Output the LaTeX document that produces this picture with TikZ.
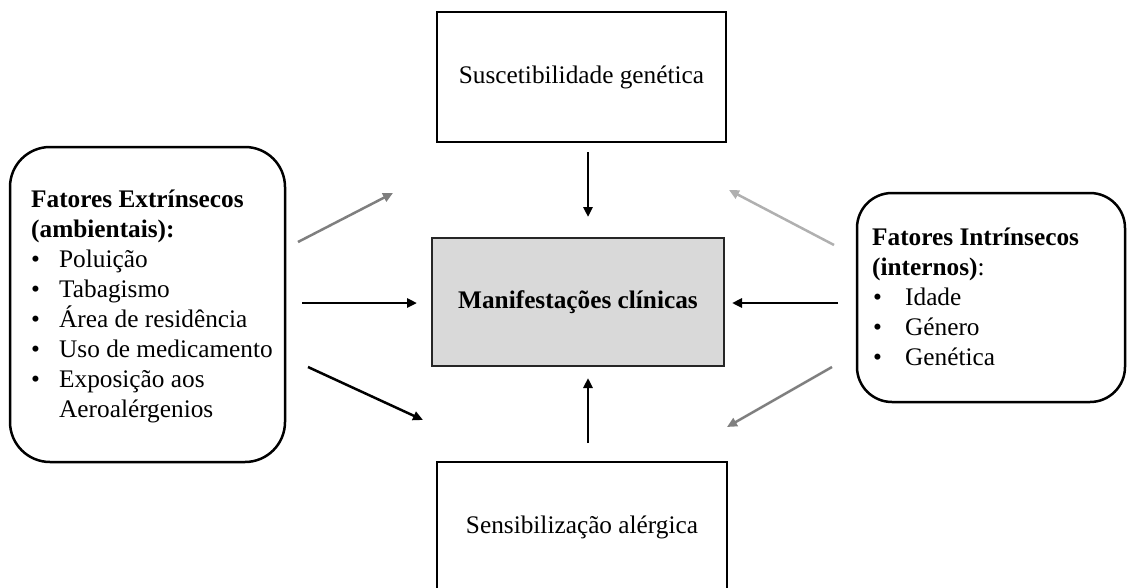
\documentclass[tikz,border=0pt]{standalone}
\usepackage{fontspec}
\setmainfont{Liberation Serif}
\usetikzlibrary{arrows.meta}
\definecolor{boxgray}{HTML}{D9D9D9}
\definecolor{boxedge}{HTML}{262626}
\definecolor{midgray}{HTML}{7F7F7F}
\definecolor{palegray}{HTML}{B0B0B0}
\newcommand\bulitem[2]{\hspace*{#1}\makebox[#2][l]{•}}
\begin{document}
\begin{tikzpicture}[x=1pt,y=-1pt,
  font=\fontsize{25.3}{30}\selectfont,
  plainbox/.style={draw=black, line width=2.5pt, align=center, inner sep=0pt},
  roundbox/.style={draw=black, line width=2.5pt, inner sep=0pt},
  listtext/.style={align=left, inner sep=0pt, anchor=west},
  arr/.style={line width=2.5pt, -{Triangle[length=10pt,width=9pt]}}]
\useasboundingbox (0,0) rectangle (1128,587);

% boxes
\node[plainbox, minimum width=289pt, minimum height=130pt] (sus) at (581.5,77) {Suscetibilidade genética};
\node[plainbox, minimum width=290pt, minimum height=130pt] (sen) at (582,527) {Sensibilização alérgica};
\node[plainbox, draw=boxedge, fill=boxgray, minimum width=292pt, minimum height=128pt] (man) at (578,302) {\textbf{Manifestações clínicas}};

\node[roundbox, rounded corners=40pt, minimum width=275pt, minimum height=315pt] (ext) at (147.5,304.5) {};
\node[listtext] (extt) at (31,306) {\textbf{Fatores Extrínsecos}\\
\textbf{(ambientais):}\\
\bulitem{0pt}{28pt}Poluição\\
\bulitem{0pt}{28pt}Tabagismo\\
\bulitem{0pt}{28pt}Área de residência\\
\bulitem{0pt}{28pt}Uso de medicamento\\
\bulitem{0pt}{28pt}Exposição aos\\
\hspace*{28pt}Aeroalérgenios};

\node[roundbox, rounded corners=35pt, minimum width=268pt, minimum height=209pt] (int) at (991,297.5) {};
\node[listtext] (intt) at (872,297) {\textbf{Fatores Intrínsecos}\\
\textbf{(internos)}:\\
\bulitem{1pt}{32pt}Idade\\
\bulitem{1pt}{32pt}Género\\
\bulitem{1pt}{32pt}Genética};

% arrow end points
\coordinate (a1s) at (298,242); \coordinate (a1e) at (393,193);
\coordinate (a2s) at (302,303); \coordinate (a2e) at (417,303);
\coordinate (a3s) at (308,367); \coordinate (a3e) at (423,420);
\coordinate (b1s) at (834,245); \coordinate (b1e) at (729,190);
\coordinate (b2s) at (838,303); \coordinate (b2e) at (732,303);
\coordinate (b3s) at (832,367); \coordinate (b3e) at (727,427);
\coordinate (c1s) at (588,152); \coordinate (c1e) at (588,217);
\coordinate (c2s) at (588,443); \coordinate (c2e) at (588,378);

\draw[arr, draw=midgray, fill=midgray] (a1s) -- (a1e);
\draw[arr, draw=black] (a2s) -- (a2e);
\draw[arr, draw=black] (a3s) -- (a3e);
\draw[arr, draw=palegray, fill=palegray] (b1s) -- (b1e);
\draw[arr, draw=black] (b2s) -- (b2e);
\draw[arr, draw=midgray, fill=midgray] (b3s) -- (b3e);
\draw[arr, draw=black] (c1s) -- (c1e);
\draw[arr, draw=black] (c2s) -- (c2e);
\end{tikzpicture}
\end{document}
